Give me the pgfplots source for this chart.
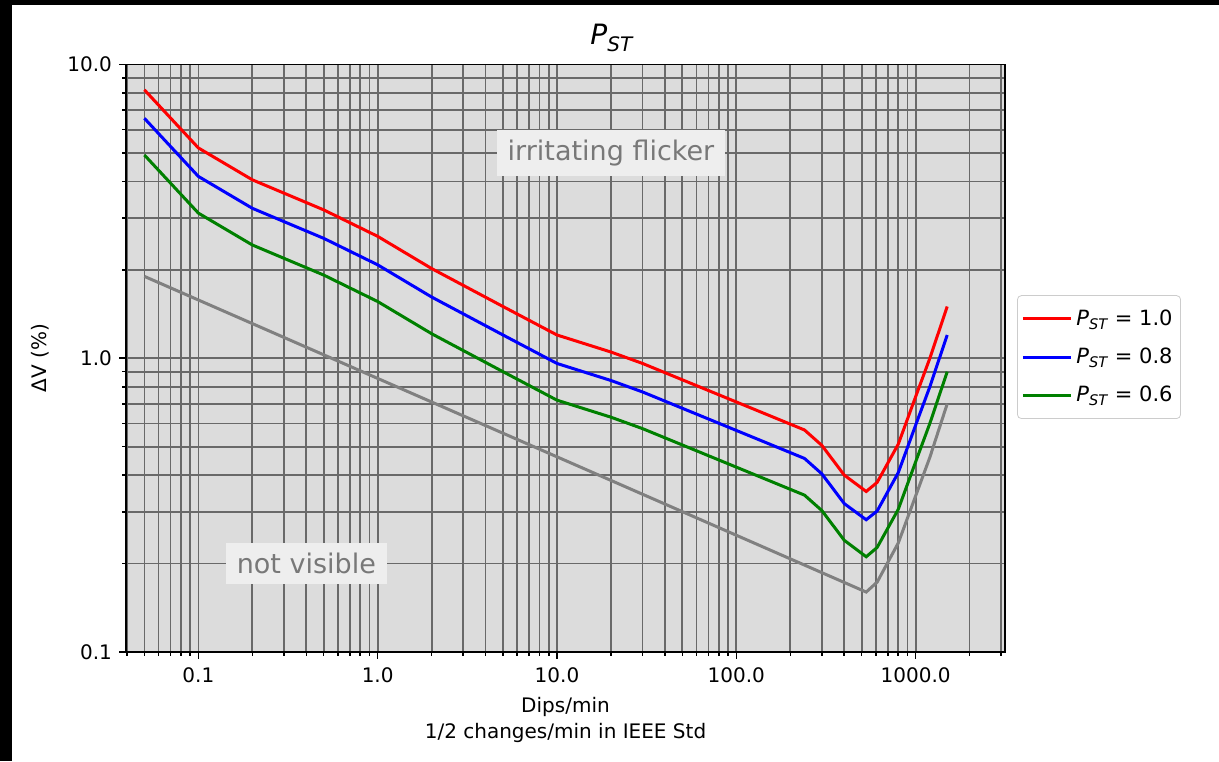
\documentclass[border=0pt]{standalone}
\usepackage{fontspec}
\setmainfont{DejaVu Sans}
\usepackage{pgfplots}
\pgfplotsset{compat=1.18}
\definecolor{bg}{RGB}{220,220,220}
\definecolor{gridc}{RGB}{105,105,105}
\definecolor{mplgreen}{RGB}{0,128,0}
\definecolor{mplgray}{RGB}{128,128,128}
\definecolor{boxfill}{RGB}{238,238,238}
\definecolor{boxtext}{RGB}{120,120,120}
\definecolor{legframe}{RGB}{204,204,204}
\newcommand\PST{\textit{P}\raisebox{-0.35ex}{\fontsize{7.3}{7.3}\selectfont\textit{ST}}}

\begin{document}
\begin{tikzpicture}
\useasboundingbox (-63pt,-54.5pt) rectangle (546.5pt,326pt);
\fill[black] (-63pt,-54.5pt) rectangle (546.5pt,326pt);
\fill[white] (-57pt,-54.5pt) rectangle (547pt,323.5pt);
\begin{axis}[
  at={(0,0)},anchor=south west,
  scale only axis,width=439.5pt,height=293.75pt,
  xmode=log,ymode=log,
  xmin=0.0395,xmax=3150,ymin=0.1,ymax=10,
  axis background/.style={fill=bg},
  xtick={0.1,1,10,100,1000},xticklabels={0.1,1.0,10.0,100.0,1000.0},
  ytick={0.1,1,10},yticklabels={0.1,1.0,10.0},
  minor xtick={0.04,0.05,0.06,0.07,0.08,0.09,0.2,0.3,0.4,0.5,0.6,0.7,0.8,0.9,
    2,3,4,5,6,7,8,9,20,30,40,50,60,70,80,90,200,300,400,500,600,700,800,900,2000,3000},
  minor ytick={0.2,0.3,0.4,0.5,0.6,0.7,0.8,0.9,2,3,4,5,6,7,8,9},
  grid=both,
  major grid style={gridc,line width=0.85pt},
  minor grid style={gridc,line width=0.85pt},
  tick align=outside,tick pos=left,
  major tick length=3.5pt,minor tick length=2pt,
  tick style={black,line width=0.8pt},
  axis line style={black,line width=0.8pt},
  tick label style={font=\fontsize{10}{12}\selectfont},
  xticklabel style={yshift=-1pt},
  xlabel={Dips/min\\1/2 changes/min in IEEE Std},
  xlabel style={at={(axis description cs:0.5,-0.1157)},anchor=center,align=center,
    font=\fontsize{10}{13}\selectfont},
  ylabel={ΔV (\%)},
  ylabel style={at={(axis description cs:-0.098,0.5)},anchor=center,font=\fontsize{10}{12}\selectfont},
  legend style={at={(1.0137,0.502)},anchor=west,draw=legframe,rounded corners=2pt,fill=white,
    font=\fontsize{10.5}{12}\selectfont,row sep=5.8pt,inner xsep=2pt,inner ysep=5pt,
    /tikz/every even column/.append style={column sep=9pt}},
  legend cell align=left,
  legend image code/.code={\draw[#1,rounded corners=0pt] (0pt,0pt) -- (24pt,0pt);},
]
\addplot[mplgray,line width=1.5pt,forget plot] coordinates {
  (0.05,1.9) (530,0.16) (610,0.173) (800,0.235) (1000,0.34) (1200,0.46) (1500,0.70)};
\addplot[red,line width=1.5pt] coordinates {
  (0.05,8.2) (0.1,5.2) (0.2,4.05) (0.5,3.2) (1,2.6) (2,2.02) (5,1.5) (10,1.2)
  (20,1.05) (30,0.96) (240,0.57) (300,0.505) (400,0.40) (530,0.352) (610,0.378)
  (800,0.51) (1000,0.74) (1200,1.0) (1500,1.5)};
\addlegendentry{\PST{} = 1.0}
\addplot[blue,line width=1.5pt] coordinates {
  (0.05,6.56) (0.1,4.16) (0.2,3.24) (0.5,2.56) (1,2.08) (2,1.616) (5,1.2) (10,0.96)
  (20,0.84) (30,0.768) (240,0.456) (300,0.404) (400,0.32) (530,0.282) (610,0.302)
  (800,0.408) (1000,0.592) (1200,0.8) (1500,1.2)};
\addlegendentry{\PST{} = 0.8}
\addplot[mplgreen,line width=1.5pt] coordinates {
  (0.05,4.92) (0.1,3.12) (0.2,2.43) (0.5,1.92) (1,1.56) (2,1.212) (5,0.9) (10,0.72)
  (20,0.63) (30,0.576) (240,0.342) (300,0.303) (400,0.24) (530,0.211) (610,0.227)
  (800,0.306) (1000,0.444) (1200,0.6) (1500,0.9)};
\addlegendentry{\PST{} = 0.6}
\node[fill=boxfill,text=boxtext,font=\fontsize{13.5}{16}\selectfont,inner xsep=5.5pt,inner ysep=5pt]
  at (axis cs:20,5) {irritating flicker};
\node[fill=boxfill,text=boxtext,font=\fontsize{13.5}{16}\selectfont,inner xsep=5.5pt,inner ysep=5pt]
  at (axis cs:0.4,0.2) {not visible};
\end{axis}
\node[font=\fontsize{14}{16}\selectfont] at (243pt,307pt)
  {\textit{P}\raisebox{-0.4ex}{\fontsize{10}{10}\selectfont\textit{ST}}};
\end{tikzpicture}
\end{document}
